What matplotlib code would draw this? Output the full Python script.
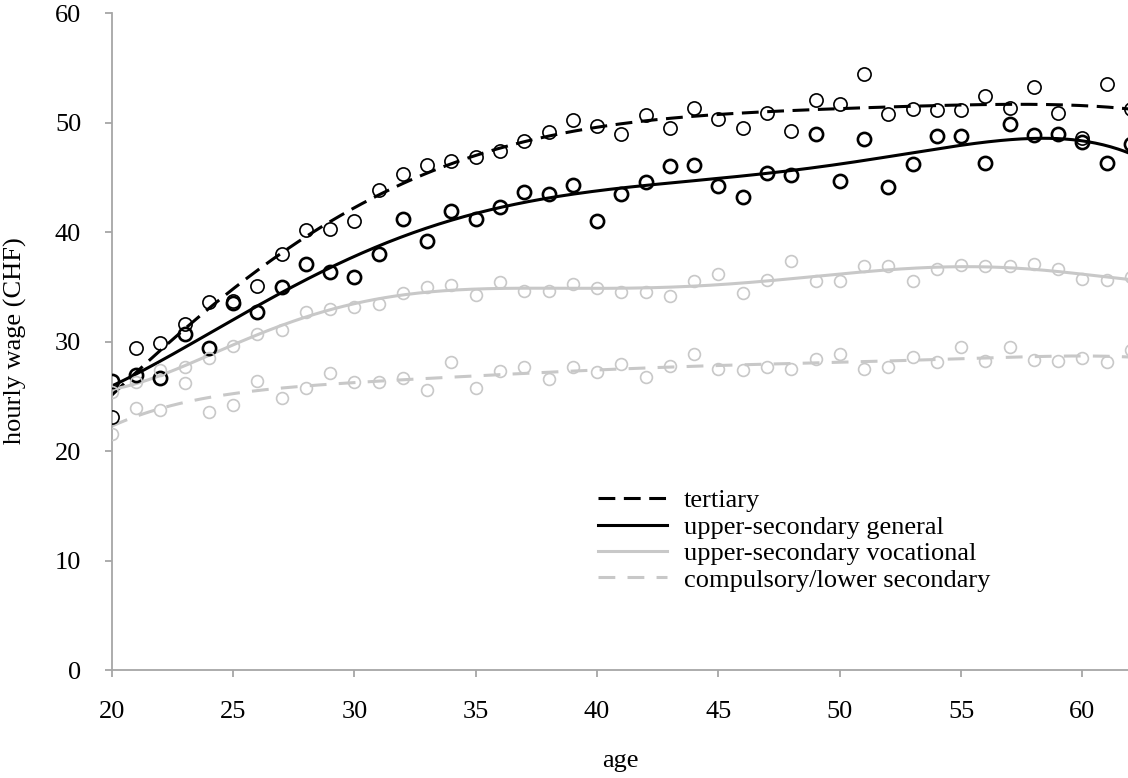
import numpy as np
import matplotlib
matplotlib.use("Agg")
from matplotlib import pyplot as plt

plt.rcParams['font.family'] = ['Liberation Serif', 'DejaVu Serif']

age = np.arange(20, 63)

# mean hourly wage by age (CHF), one list per education level
tertiary = [23.1, 29.4, 29.9, 31.6, 33.6, 33.7, 35.1, 38.0, 40.2, 40.3,
            41.0, 43.8, 45.3, 46.1, 46.5, 46.9, 47.4, 48.3, 49.1, 50.2,
            49.7, 49.0, 50.7, 49.5, 51.3, 50.3, 49.5, 50.9, 49.2, 52.1,
            51.7, 54.4, 50.8, 51.2, 51.1, 51.1, 52.4, 51.3, 53.2, 50.9,
            48.6, 53.5, 51.2]
upper_general = [26.4, 27.0, 26.7, 30.7, 29.4, 33.5, 32.7, 35.0, 37.1, 36.4,
                 35.9, 38.0, 41.2, 39.2, 41.9, 41.2, 42.3, 43.7, 43.5, 44.3,
                 41.0, 43.5, 44.6, 46.0, 46.1, 44.2, 43.2, 45.4, 45.2, 49.0,
                 44.7, 48.5, 44.1, 46.2, 48.8, 48.8, 46.3, 49.9, 48.9, 49.0,
                 48.2, 46.3, 48.0]
upper_vocational = [25.4, 26.3, 27.4, 27.7, 28.5, 29.6, 30.7, 31.1, 32.7, 33.0,
                    33.2, 33.4, 34.4, 35.0, 35.2, 34.3, 35.4, 34.6, 34.6, 35.3,
                    34.9, 34.5, 34.5, 34.2, 35.5, 36.2, 34.4, 35.6, 37.4, 35.5,
                    35.5, 36.9, 36.9, 35.5, 36.6, 37.0, 36.9, 36.9, 37.1, 36.6,
                    35.7, 35.6, 35.9]
compulsory = [21.6, 23.9, 23.8, 26.2, 23.6, 24.2, 26.4, 24.9, 25.8, 27.1,
              26.3, 26.3, 26.7, 25.6, 28.1, 25.8, 27.3, 27.7, 26.6, 27.7,
              27.2, 28.0, 26.8, 27.8, 28.9, 27.5, 27.4, 27.7, 27.5, 28.4,
              28.9, 27.5, 27.7, 28.6, 28.1, 29.5, 28.2, 29.5, 28.3, 28.2,
              28.5, 28.1, 29.2]

labels = ['tertiary', 'upper-secondary general',
          'upper-secondary vocational', 'compulsory/lower secondary']

black = '#000000'
grey = '#c8c8c8'
axis_grey = '#a6a6a6'
fs = 19

W, H = 1128, 778
fig = plt.figure(figsize=(W / 100, H / 100), dpi=100)
x0, x1 = 111.7, W
y0, y1 = 670.3, 13.0
ax = fig.add_axes([x0 / W, 1 - y0 / H, (x1 - x0) / W, (y0 - y1) / H])

px_per_year = 24.27
ax.set_xlim(20, 20 + (x1 - x0) / px_per_year)
ax.set_ylim(0, 60)

series = [
    (tertiary, black, (0, (5.5, 2.8)), 1.2),
    (upper_general, black, '-', 1.9),
    (upper_vocational, grey, '-', 1.2),
    (compulsory, grey, (0, (5.5, 4.0)), 1.2),
]

# polynomial trend lines (order 6) over the age profile
xs = np.linspace(20, 62, 400)
for (vals, col, ls, mew), lab in zip(series, labels):
    vals = np.array(vals)
    ax.plot(age, vals, 'o', ms=9.5 if col == black else 8.5, mfc='none',
            mec=col, mew=mew, zorder=3)
    coef = np.polyfit(age - 40, vals, 6)
    ax.plot(xs, np.polyval(coef, xs - 40), color=col, lw=2.2, ls=ls,
            label=lab, zorder=2)

for s in ['top', 'right']:
    ax.spines[s].set_visible(False)
for s in ['left', 'bottom']:
    ax.spines[s].set_color(axis_grey)
    ax.spines[s].set_linewidth(1.3)

ax.set_xticks(range(20, 61, 5))
ax.set_yticks(range(0, 61, 10))
ax.tick_params(axis='both', colors=axis_grey, length=5, width=1.3,
               labelcolor='black', labelsize=fs)
ax.tick_params(axis='y', pad=17)
ax.tick_params(axis='x', pad=17)

fig.text(620 / W, 1 - 767 / H, 'age', fontsize=fs, ha='center', va='baseline')
fig.text(15 / W, 1 - 341 / H, 'hourly wage (CHF)', fontsize=fs,
         rotation=90, ha='center', va='center')

fig.legend(loc='upper left', bbox_to_anchor=(598 / W, 1 - 489 / H),
           frameon=False, fontsize=fs, handlelength=2.6,
           handletextpad=0.65, labelspacing=0.11, borderpad=0,
           borderaxespad=0)

fig.savefig('out.png', dpi=100)
